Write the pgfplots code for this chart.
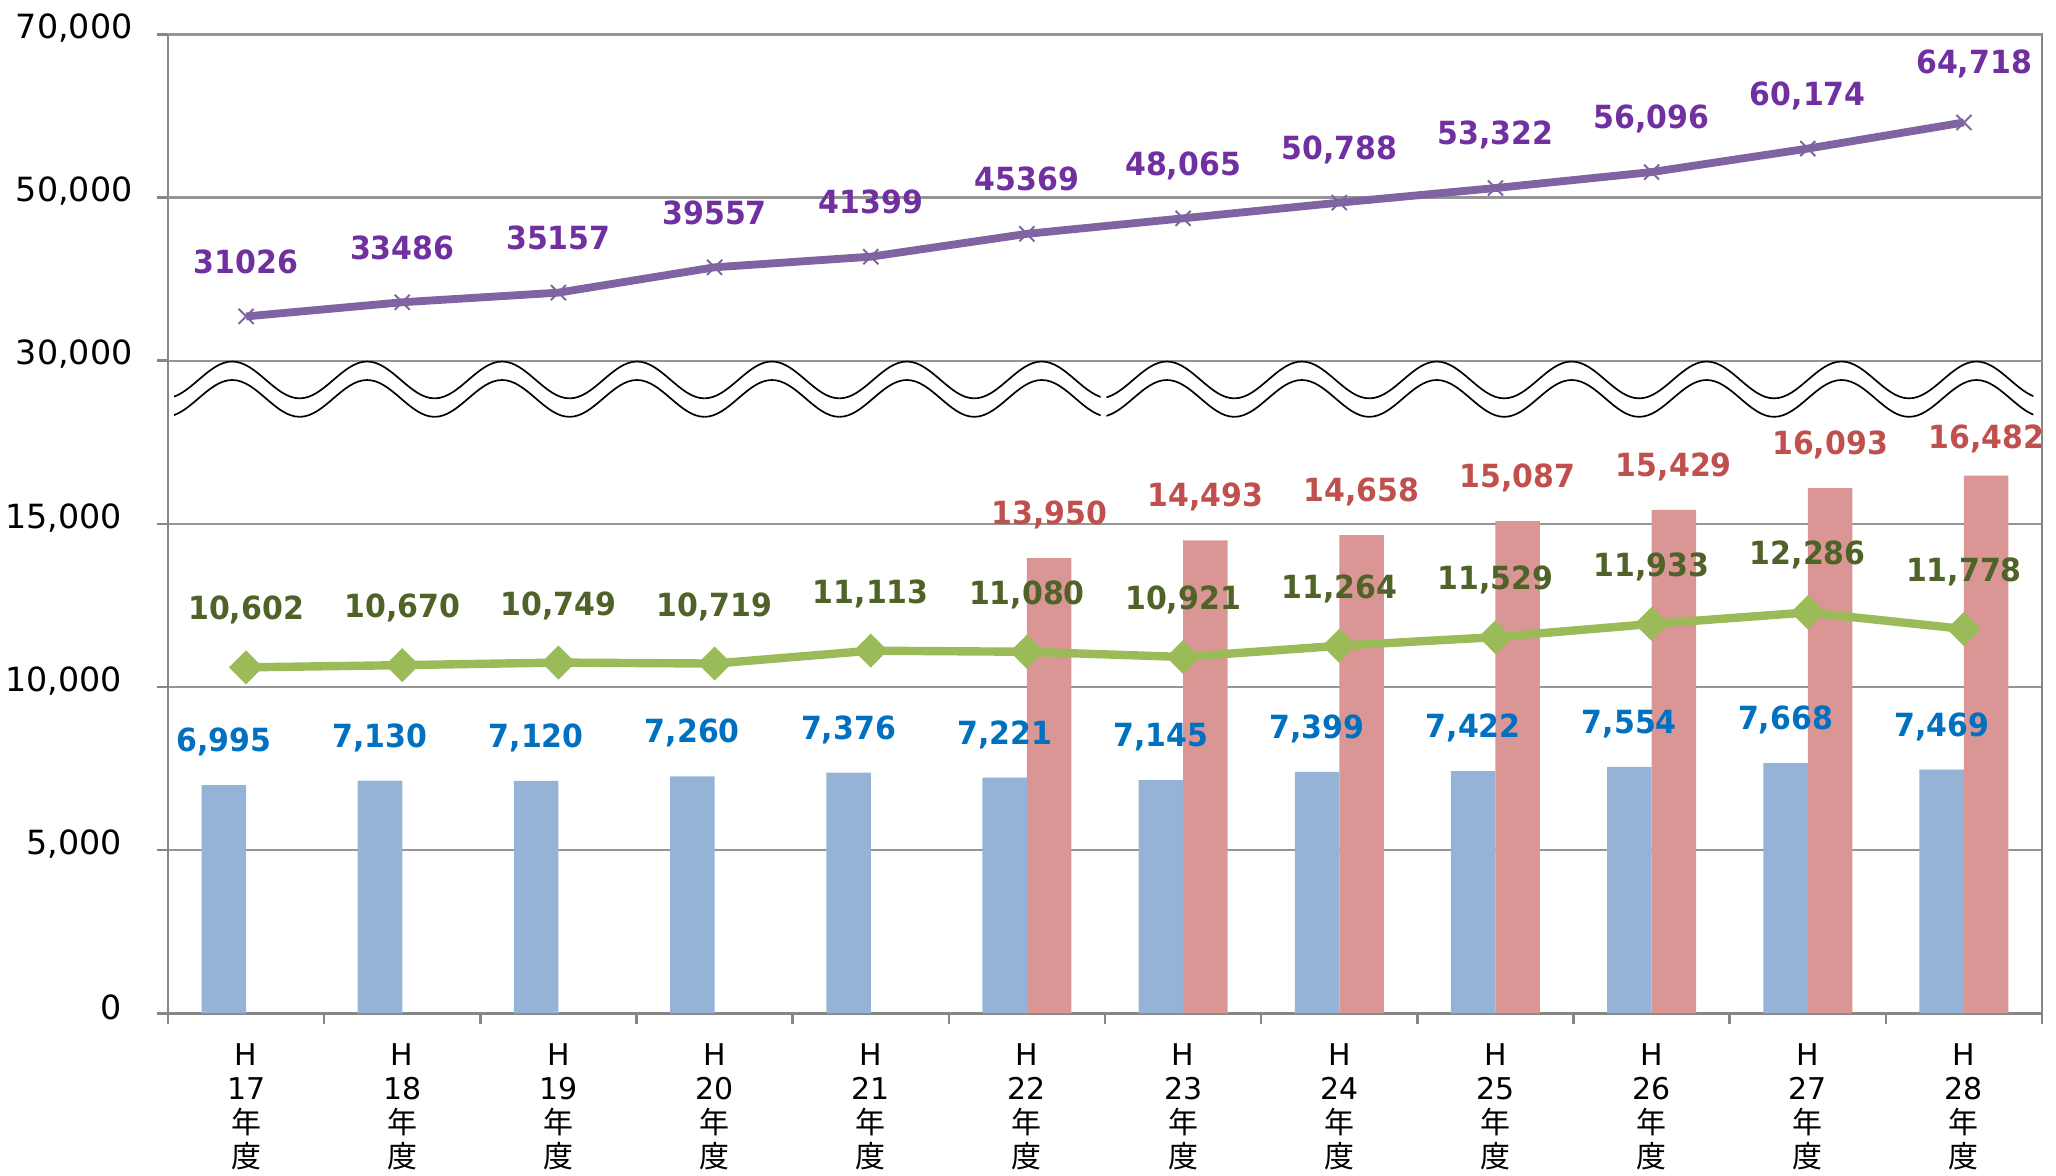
\documentclass[border=0pt]{standalone}
\usepackage{pgfplots}
\pgfplotsset{compat=1.18}
\usepackage{pgfplotstable}
\usepackage{fontspec}
\setmainfont{DejaVu Sans}
\newfontfamily\labfont{DejaVu Sans}[FakeStretch=0.94]
\newfontfamily\cjk{Noto Sans CJK JP}

\definecolor{barblue}{HTML}{95B3D7}
\definecolor{barred}{HTML}{D99694}
\definecolor{lgreen}{HTML}{9BBB59}
\definecolor{lpurple}{HTML}{8064A2}
\definecolor{tpurple}{HTML}{7030A0}
\definecolor{tgreen}{HTML}{4F6228}
\definecolor{tred}{HTML}{C0504D}
\definecolor{tblue}{HTML}{0070C0}
\definecolor{axgray}{HTML}{868686}
\definecolor{gridgray}{HTML}{959595}

\pgfplotstableread{
x y lab
0 6995 6,995
1 7130 7,130
2 7120 7,120
3 7260 7,260
4 7376 7,376
5 7221 7,221
6 7145 7,145
7 7399 7,399
8 7422 7,422
9 7554 7,554
10 7668 7,668
11 7469 7,469
}\bluedata

\pgfplotstableread{
x y lab ys
5 13950 13,950 12.05
6 14493 14,493 12.05
7 14658 14,658 12.05
8 15087 15,087 12.05
9 15429 15,429 12.05
10 16093 16,093 12.05
11 16482 16,482 9.65
}\reddata

\pgfplotstableread{
x y lab
0 10602 10,602
1 10670 10,670
2 10749 10,749
3 10719 10,719
4 11113 11,113
5 11080 11,080
6 10921 10,921
7 11264 11,264
8 11529 11,529
9 11933 11,933
10 12286 12,286
11 11778 11,778
}\greendata

\pgfplotstableread{
x y lab xs ys
0 31026 31026 0 15.45
1 33486 33486 0 15.45
2 35157 35157 0 15.45
3 39557 39557 0 15.45
4 41399 41399 0 15.45
5 45369 45369 0 15.45
6 48065 48,065 0 15.45
7 50788 50,788 0 15.45
8 53322 53,322 0 15.45
9 56096 56,096 0 15.45
10 60174 60,174 0 15.45
11 64718 64,718 3.6 17.65
}\purpledata

\newcommand{\xl}[1]{H\\#1\\{\cjk 年}\\{\cjk 度}}
\tikzset{lab/.style={font=\fontsize{11.4}{13}\selectfont\labfont\bfseries}}

\begin{document}
\begin{tikzpicture}
\pgfplotsset{
  common/.style={
    at={(60pt,58.1pt)}, anchor=south west,
    scale only axis, width=669.3pt, height=349.6pt,
    xmin=-0.5, xmax=11.5, clip=false,
  },
}
\begin{axis}[
  common,
  ymin=0, ymax=30000,
  xtick={-0.5,0.5,...,11.5}, x tick label as interval,
  xticklabels={\xl{17},\xl{18},\xl{19},\xl{20},\xl{21},\xl{22},\xl{23},\xl{24},\xl{25},\xl{26},\xl{27},\xl{28}},
  ytick={0,5000,10000,15000},
  yticklabels={0,{5,000},{10,000},{15,000}},
  extra y ticks={20000,25000,30000},
  extra y tick labels={{30,000},{50,000},{70,000}},
  extra y tick style={grid=major, yticklabel style={xshift=3.7pt}},
  ymajorgrids, grid style={draw=gridgray, line width=0.8pt},
  axis line style={draw=axgray, line width=0.9pt},
  tick style={draw=axgray, line width=0.9pt},
  tick align=outside, major tick length=3.8pt,
  xtick pos=left, ytick pos=left,
  yticklabel style={font=\fontsize{11.9}{14}\selectfont, black, anchor=east, inner sep=0pt, xshift=-12.4pt, yshift=2.2pt},
  xticklabel style={font=\fontsize{10.7}{12.2}\selectfont, black, align=center, anchor=north, inner sep=0pt, yshift=-6.8pt},
]
\addplot[ybar, bar width=0.285, bar shift=0pt, fill=barred, draw=none,
  nodes near coords, point meta=explicit symbolic,
  visualization depends on={\thisrow{ys}\as\ys},
  every node near coord/.append style={lab, tred, anchor=base, yshift=\ys pt}]
  table[x expr=\thisrow{x}+0.1425, y=y, meta=lab]{\reddata};
\addplot[ybar, bar width=0.285, bar shift=0pt, fill=barblue, draw=none,
  nodes near coords, point meta=explicit symbolic,
  every node near coord/.append style={lab, tblue, anchor=base, yshift=11.95pt}]
  table[x expr=\thisrow{x}-0.1425, y=y, meta=lab]{\bluedata};
\addplot[color=lgreen, line width=3pt, mark=square*, mark size=4.1pt,
  mark options={rotate=45, solid, line width=0.4pt, fill=lgreen},
  nodes near coords, point meta=explicit symbolic,
  every node near coord/.append style={lab, tgreen, anchor=base, yshift=16.95pt}]
  table[x=x, y=y, meta=lab]{\greendata};
\end{axis}
\begin{axis}[
  common,
  ymin=-90000, ymax=80000,
  hide axis,
]
\addplot[color=lpurple, line width=2.8pt, mark=x, mark size=3.8pt,
  mark options={solid, line width=0.7pt},
  nodes near coords, point meta=explicit symbolic,
  visualization depends on={\thisrow{xs}\as\xs},
  visualization depends on={\thisrow{ys}\as\ys},
  every node near coord/.append style={lab, tpurple, anchor=base, xshift=\xs pt, yshift=\ys pt}]
  table[x=x, y=y, meta=lab]{\purpledata};
\end{axis}
% axis break waves
\begin{scope}[x=1pt, y=1pt]
  \def\AX{60}\def\CW{55.775}
  \def\cU{284.3}\def\cL{277.7}\def\A{6.58}
  \begin{scope}
    \clip (62.2,255) rectangle (393.1,300);
    \foreach \k in {0,...,6} {
      \pgfmathsetmacro\p{\AX+(-0.089+\k*0.864+0.5)*\CW}
      \foreach \c in {\cU,\cL} {
        \draw[black, line width=0.6pt] ({\p-24.1},{\c-\A}) cos ({\p-12.05},\c) sin (\p,{\c+\A}) cos ({\p+12.05},\c) sin ({\p+24.1},{\c-\A});
      }
    }
  \end{scope}
  \begin{scope}
    \clip (395.1,255) rectangle (726.2,300);
    \foreach \k in {0,...,6} {
      \pgfmathsetmacro\p{\AX+(5.896+\k*0.864+0.5)*\CW}
      \foreach \c in {\cU,\cL} {
        \draw[black, line width=0.6pt] ({\p-24.1},{\c-\A}) cos ({\p-12.05},\c) sin (\p,{\c+\A}) cos ({\p+12.05},\c) sin ({\p+24.1},{\c-\A});
      }
    }
  \end{scope}
\end{scope}
\pgfresetboundingbox
\useasboundingbox (0,0) rectangle (734.29pt,420pt);
\end{tikzpicture}
\end{document}
